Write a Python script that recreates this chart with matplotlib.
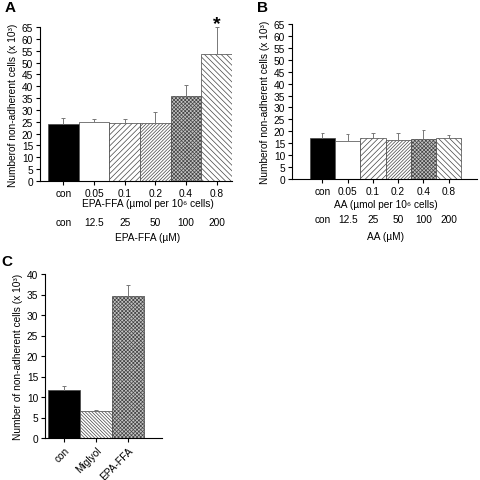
import numpy as np
import matplotlib
matplotlib.use("Agg")
import matplotlib.pyplot as plt

plt.rcParams.update({
  "font.family": ["Liberation Sans", "DejaVu Sans"],
  "font.size": 7.3,
  "hatch.linewidth": 0.5,
  "axes.linewidth": 0.8,
})

# panel A: EPA-FFA
a_doses=["con","0.05","0.1","0.2","0.4","0.8"]
a_conc=["con","12.5","25","50","100","200"]
a_vals=[24.0,25.0,24.4,24.5,36.0,53.5]
a_errs=[2.5,1.2,1.9,4.5,4.6,11.5]

# panel B: AA
b_doses=["con","0.05","0.1","0.2","0.4","0.8"]
b_conc=["con","12.5","25","50","100","200"]
b_vals=[17.0,16.0,17.0,16.3,16.7,17.0]
b_errs=[2.5,2.8,2.5,3.2,3.8,1.5]

# panel C
c_groups=["con","Miglyol","EPA-FFA"]
c_vals=[11.7,6.7,34.7]
c_errs=[1.1,0.2,2.5]

dose_styles=[
  dict(facecolor="black",hatch=None),
  dict(facecolor="white",hatch=None),
  dict(facecolor="white",hatch="//////"),
  dict(facecolor="white",hatch="//////////"),
  dict(facecolor="#c4c4c4",hatch="xxxxxxxxx"),
  dict(facecolor="white",hatch="\\"*6),
]
c_styles=[
  dict(facecolor="black",hatch=None),
  dict(facecolor="white",hatch="\\"*10),
  dict(facecolor="#c4c4c4",hatch="xxxxxxxxx"),
]

W=H=481
def px_axes(fig,x0,y0,x1,y1):
  return fig.add_axes([x0/W,1-y1/H,(x1-x0)/W,(y1-y0)/H])

def bars(ax,vals,errs,styles):
  x=np.arange(len(vals))
  for xi,v,s in zip(x,vals,styles):
    ax.bar(xi,v,width=1.0,edgecolor="#444444",linewidth=0.5,**s)
  tops=np.array(vals)+np.array(errs)
  ax.vlines(x,vals,tops,color="#777777",linewidth=0.7,zorder=3)
  ax.hlines(tops,x-0.07,x+0.07,color="#777777",linewidth=0.7,zorder=3)
  return x

def style(ax):
  for s in ("top","right"): ax.spines[s].set_visible(False)
  ax.tick_params(length=3,width=0.8,pad=2)

fig=plt.figure(figsize=(W/100,H/100),dpi=100)

# A
ax=px_axes(fig,40,28,232,182)
x=bars(ax,a_vals,a_errs,dose_styles)
ax.set_xlim(-0.76,5.5); ax.set_ylim(0,65)
ax.set_yticks(range(0,66,5))
ax.set_xticks(x); ax.set_xticklabels(a_doses)
ax.tick_params(axis="x",length=0,pad=5)
style(ax)
ax.set_ylabel("Numberof non-adherent cells (x 10³)",labelpad=3)
tr=ax.get_xaxis_transform()
ax.text(2.75,-0.14,"EPA-FFA (µmol per 10⁶ cells)",transform=tr,ha="center",va="center")
for xi,c in zip(x,a_conc):
  ax.text(xi,-0.266,c,transform=tr,ha="center",va="center")
ax.text(2.75,-0.364,"EPA-FFA (µM)",transform=tr,ha="center",va="center")
ax.text(x[-1],66.5,"*",ha="center",va="center",fontsize=14,fontweight="bold")
fig.text(5/W,1-8/H,"A",fontsize=11,fontweight="bold",ha="left",va="center")

# B
ax=px_axes(fig,292,25,477,180)
x=bars(ax,b_vals,b_errs,dose_styles)
ax.set_xlim(-1.21,6.13); ax.set_ylim(0,65)
ax.set_yticks(range(0,66,5))
ax.set_xticks(x); ax.set_xticklabels(b_doses)
ax.tick_params(axis="x",length=0,pad=6)
style(ax)
ax.set_ylabel("Numberof non-adherent cells (x 10³)",labelpad=3)
tr=ax.get_xaxis_transform()
ax.text(2.5,-0.16,"AA (µmol per 10⁶ cells)",transform=tr,ha="center",va="center")
for xi,c in zip(x,b_conc):
  ax.text(xi,-0.258,c,transform=tr,ha="center",va="center")
ax.text(2.5,-0.365,"AA (µM)",transform=tr,ha="center",va="center")
fig.text(257/W,1-8/H,"B",fontsize=11,fontweight="bold",ha="left",va="center")

# C
ax=px_axes(fig,45,275,162,439)
x=bars(ax,c_vals,c_errs,c_styles)
ax.set_xlim(-0.6,3.06); ax.set_ylim(0,40)
ax.set_yticks(range(0,41,5))
ax.set_xticks(x); ax.set_xticklabels(c_groups,rotation=45,ha="right",rotation_mode="anchor")
ax.tick_params(axis="x",length=0,pad=6)
style(ax)
ax.set_ylabel("Number of non-adherent cells (x 10³)",labelpad=3)
fig.text(1/W,1-262/H,"C",fontsize=11,fontweight="bold",ha="left",va="center")

fig.savefig("out.png",dpi=100)
